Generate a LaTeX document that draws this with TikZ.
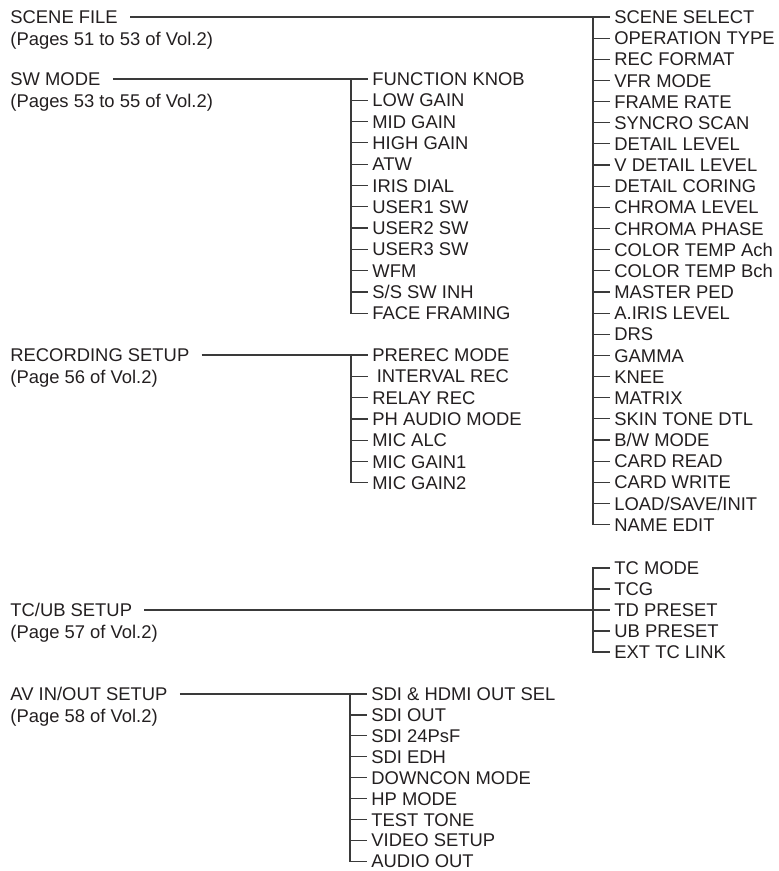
\documentclass[tikz,border=0pt]{standalone}
\usepackage{fontspec}
\setmainfont{Liberation Sans}
\usetikzlibrary{positioning}
\definecolor{ink}{HTML}{231F20}
\definecolor{wire}{HTML}{3A3A3A}
\tikzset{
  headtext/.style={
    anchor=west,
    inner xsep=0pt,
    inner ysep=0pt,
    text height=6.6pt,
    text depth=0pt,
    text=ink,
    font=\fontsize{9.2}{10.6}\selectfont
  },
  reftext/.style={headtext},
  menuitem/.style={headtext},
  treeline/.style={draw=wire,line width=0.6pt}
}
\begin{document}
\begin{tikzpicture}[x=0.5pt,y=-0.5pt]
\useasboundingbox (0,0) rectangle (778,871);
% scene file
\node[headtext] (scene) at (10,17) {SCENE FILE};
\node[reftext,below=4pt of scene.south west,anchor=north west] (sceneref) {(Pages 51 to 53 of Vol.2)};
\coordinate (scenespine) at (593,17);
\foreach \t [count=\i] in {SCENE SELECT,OPERATION TYPE,REC FORMAT,VFR MODE,FRAME RATE,SYNCRO SCAN,DETAIL LEVEL,V DETAIL LEVEL,DETAIL CORING,CHROMA LEVEL,CHROMA PHASE,COLOR TEMP Ach,COLOR TEMP Bch,MASTER PED,A.IRIS LEVEL,DRS,GAMMA,KNEE,MATRIX,SKIN TONE DTL,B/W MODE,CARD READ,CARD WRITE,LOAD/SAVE/INIT,NAME EDIT}
  \node[menuitem] (scene\i) at (614,{17+21.15*(\i-1)}) {\t};
\draw[treeline] ([xshift=6pt]scene.east) -- ([xshift=-2pt]scene1.west);
\draw[treeline] (scene1.west -| scenespine) |- ([xshift=-2pt]scene25.west);
\foreach \i in {2,...,24}
  \draw[treeline] (scene\i.west -| scenespine) -- ([xshift=-2pt]scene\i.west);
% sw mode
\node[headtext] (sw) at (10,79) {SW MODE};
\node[reftext,below=4pt of sw.south west,anchor=north west] (swref) {(Pages 53 to 55 of Vol.2)};
\coordinate (swspine) at (351,79);
\foreach \t [count=\i] in {FUNCTION KNOB,LOW GAIN,MID GAIN,HIGH GAIN,ATW,IRIS DIAL,USER1 SW,USER2 SW,USER3 SW,WFM,S/S SW INH,FACE FRAMING}
  \node[menuitem] (sw\i) at (372,{79+21.3*(\i-1)}) {\t};
\draw[treeline] ([xshift=6pt]sw.east) -- ([xshift=-2pt]sw1.west);
\draw[treeline] (sw1.west -| swspine) |- ([xshift=-2pt]sw12.west);
\foreach \i in {2,...,11}
  \draw[treeline] (sw\i.west -| swspine) -- ([xshift=-2pt]sw\i.west);
% recording setup
\node[headtext] (rec) at (10,355) {RECORDING SETUP};
\node[reftext,below=4pt of rec.south west,anchor=north west] (recref) {(Page 56 of Vol.2)};
\coordinate (recspine) at (351,355);
\foreach \t [count=\i] in {PREREC MODE,\hspace*{2.2pt}INTERVAL REC,RELAY REC,PH AUDIO MODE,MIC ALC,MIC GAIN1,MIC GAIN2}
  \node[menuitem] (rec\i) at (372,{355+21.3*(\i-1)}) {\t};
\draw[treeline] ([xshift=6pt]rec.east) -- ([xshift=-2pt]rec1.west);
\draw[treeline] (rec1.west -| recspine) |- ([xshift=-2pt]rec7.west);
\foreach \i in {2,...,6}
  \draw[treeline] (rec\i.west -| recspine) -- ([xshift=-2pt]rec\i.west);
% tc/ub setup
\node[headtext] (tc) at (10,610) {TC/UB SETUP};
\node[reftext,below=4pt of tc.south west,anchor=north west] (tcref) {(Page 57 of Vol.2)};
\coordinate (tcspine) at (593,610);
\foreach \t [count=\i] in {TC MODE,TCG,TD PRESET,UB PRESET,EXT TC LINK}
  \node[menuitem] (tc\i) at (614,{568+21*(\i-1)}) {\t};
\draw[treeline] ([xshift=6pt]tc.east) -- ([xshift=-2pt]tc3.west);
\draw[treeline] ([xshift=-2pt]tc1.west) -| (tc3.west -| tcspine) |- ([xshift=-2pt]tc5.west);
\foreach \i in {2,4}
  \draw[treeline] (tc\i.west -| tcspine) -- ([xshift=-2pt]tc\i.west);
% av in/out setup
\node[headtext] (av) at (10,694) {AV IN/OUT SETUP};
\node[reftext,below=4pt of av.south west,anchor=north west] (avref) {(Page 58 of Vol.2)};
\coordinate (avspine) at (350,694);
\foreach \t [count=\i] in {SDI \& HDMI OUT SEL,SDI OUT,SDI 24PsF,SDI EDH,DOWNCON MODE,HP MODE,TEST TONE,VIDEO SETUP,AUDIO OUT}
  \node[menuitem] (av\i) at (371,{694+20.9*(\i-1)}) {\t};
\draw[treeline] ([xshift=6pt]av.east) -- ([xshift=-2pt]av1.west);
\draw[treeline] (av1.west -| avspine) |- ([xshift=-2pt]av9.west);
\foreach \i in {2,...,8}
  \draw[treeline] (av\i.west -| avspine) -- ([xshift=-2pt]av\i.west);
\end{tikzpicture}
\end{document}
